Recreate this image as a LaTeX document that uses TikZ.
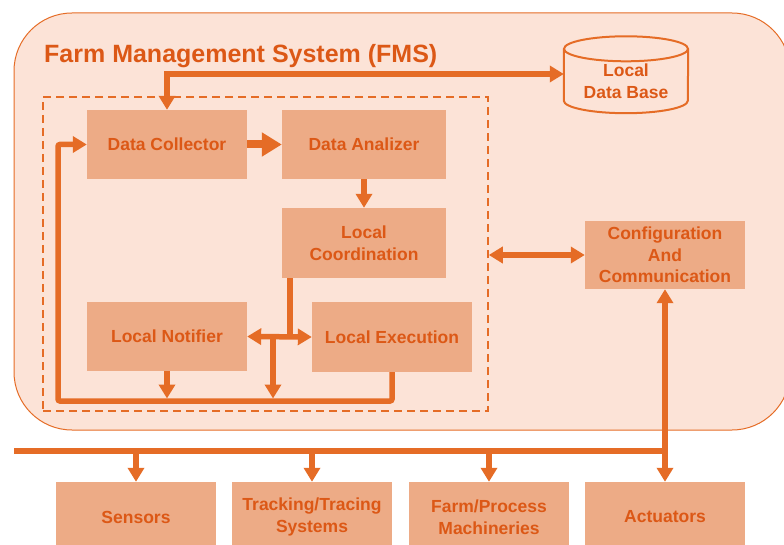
\documentclass[tikz,border=0pt]{standalone}
\usepackage{fontspec}
\setmainfont{Liberation Sans}
\usetikzlibrary{arrows.meta}
\definecolor{fmsbg}{RGB}{252,227,215}
\definecolor{fmsline}{RGB}{229,108,38}
\definecolor{fmsbox}{RGB}{237,171,134}
\definecolor{fmstext}{RGB}{220,88,22}

\tikzset{
  block/.style={fill=fmsbox, text=fmstext, font=\bfseries\fontsize{17.5}{21.5}\selectfont, align=center, inner sep=0pt},
  link/.style={draw=fmsline, line width=5.5pt},
  flow/.style={link, -{Triangle[width=16pt,length=14pt]}},
  flowboth/.style={link, {Triangle[width=16pt,length=14pt]}-{Triangle[width=16pt,length=14pt]}},
}

\begin{document}
\begin{tikzpicture}[x=1pt,y=-1pt]
  \useasboundingbox (0,0) rectangle (784,545);
  \clip (0,0) rectangle (784,545);
  % FMS frame
  \draw[fill=fmsbg, draw=fmsline, line width=1pt, rounded corners=58pt] (14,13) rectangle (790,430);
  \node[anchor=base west, text=fmstext, font=\bfseries\fontsize{25}{30}\selectfont, inner sep=0pt] (title) at (44,63) {Farm Management System (FMS)};
  % Dashed core
  \node[draw=fmsline, line width=1.5pt, dash pattern=on 8pt off 5pt, minimum width=445pt, minimum height=314pt, inner sep=0pt] (core) at (265.5,254) {};
  % Blocks
  \node[block, minimum width=160pt, minimum height=69pt] (dc) at (167,144.5) {Data Collector};
  \node[block, minimum width=164pt, minimum height=69pt] (da) at (364,144.5) {Data Analizer};
  \node[block, minimum width=164pt, minimum height=70pt] (lc) at (364,243) {Local\\Coordination};
  \node[block, minimum width=160pt, minimum height=69pt] (ln) at (167,336.5) {Local Notifier};
  \node[block, minimum width=160pt, minimum height=70pt] (le) at (392,337) {Local Execution};
  \node[block, minimum width=160pt, minimum height=68pt] (cc) at (665,255) {Configuration\\And\\Communication};
  % Local data base
  \node[text=fmstext, font=\bfseries\fontsize{17.5}{21.5}\selectfont, align=center, inner sep=0pt, minimum width=124pt, minimum height=64pt] (db) at (626,81) {Local\\Data Base};
  \draw[draw=fmsline, line width=2pt] (db.north west) -- ([yshift=12.5pt]db.south west) arc (180:360:62pt and 12.5pt) -- (db.north east);
  \draw[draw=fmsline, line width=2pt] (db.north) ellipse [x radius=62pt, y radius=12.5pt];
  % Field devices
  \node[block, minimum width=160pt, minimum height=70pt] (sens) at (136,517) {Sensors};
  \node[block, minimum width=160pt, minimum height=70pt] (track) at (312,517) {Tracking/Tracing\\Systems};
  \node[block, minimum width=160pt, minimum height=70pt] (mach) at (489,517) {Farm/Process\\Machineries};
  \node[block, minimum width=160pt, minimum height=70pt] (act) at (665,517) {Actuators};
  % Helper points
  \coordinate (loopL) at (58,401);
  \coordinate (jn) at (290,337);
  \coordinate (jd) at (273,337);
  \coordinate (busL) at (14,451);
  % Connectors
  \draw[flowboth] (dc.north) |- ([yshift=7pt]db.west);
  \draw[link, line width=8pt, -{Triangle[width=23pt,length=20pt]}] (dc.east) -- (da.west);
  \draw[flow] (da.south) -- (lc.north);
  \draw[link] (jn |- lc.south) -- (jn);
  \draw[flowboth] (ln.east) -- (le.west);
  \draw[flow, shorten >=2.5pt] (jd) -- (jd |- loopL);
  \draw[flow, shorten >=2.5pt] (ln.south) -- (ln.south |- loopL);
  \draw[flow, rounded corners=2pt] (le.south) |- (loopL) |- (dc.west);
  \draw[flowboth] (core.east |- cc.west) -- (cc.west);
  \draw[flowboth] (cc.south) -- (act.north);
  \draw[link, line width=6pt] (busL) -- (busL -| act.north);
  \foreach \dev in {sens,track,mach}
    \draw[flow] (busL -| \dev.north) -- (\dev.north);
\end{tikzpicture}
\end{document}
